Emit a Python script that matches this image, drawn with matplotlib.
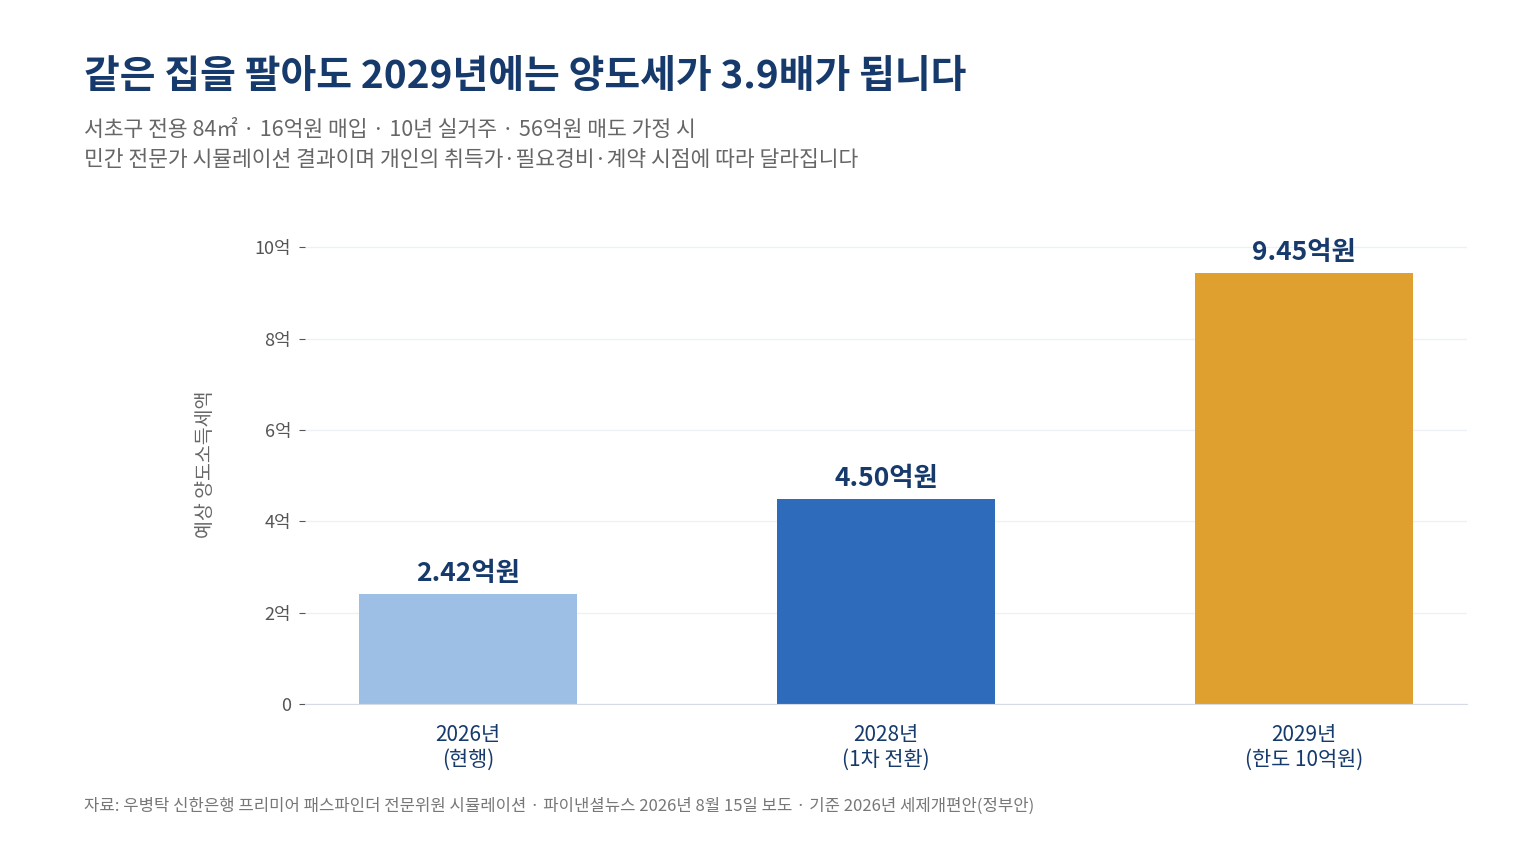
import matplotlib
matplotlib.use("Agg")
import matplotlib.pyplot as plt

plt.rcParams['font.family'] = ['Noto Sans CJK KR', 'DejaVu Sans']

categories = ["2026년\n(현행)", "2028년\n(1차 전환)", "2029년\n(한도 10억원)"]
values = [2.42, 4.50, 9.45]
bar_labels = ["2.42억원", "4.50억원", "9.45억원"]
yticks = [0, 2, 4, 6, 8, 10]
ytick_labels = ["0", "2억", "4억", "6억", "8억", "10억"]
COLORS = ["#9dbfe6", "#2e6bba", "#dfa030"]
NAVY = "#163a6b"

fig = plt.figure(figsize=(15.36, 8.64), dpi=100)
ax = fig.add_axes([0.1986, 0.185, 0.7565, 0.555])

x = range(len(values))
ax.bar(x, values, width=0.52, color=COLORS, zorder=2)
for xi, v, lab in zip(x, values, bar_labels):
    ax.text(xi, v + 0.15, lab, ha="center", va="bottom", fontsize=19,
            fontweight="bold", color=NAVY)

ax.set_xlim(-0.39, 2.39)
ax.set_ylim(0, 10.5)
ax.set_yticks(yticks)
ax.set_yticklabels(ytick_labels, fontsize=13, color="#555")
ax.set_xticks(list(x))
ax.set_xticklabels(categories, fontsize=15, color=NAVY)
ax.tick_params(axis="x", length=0, pad=14)
ax.tick_params(axis="y", length=4, color="#555", pad=6)
ax.grid(True, axis="y", color="#edf0f4", linewidth=1, zorder=0)
for s in ["top", "right", "left"]:
    ax.spines[s].set_visible(False)
ax.spines["bottom"].set_color("#d5dbe6")
ax.set_ylabel("예상 양도소득세액", fontsize=14, color="#666", labelpad=28)

fig.text(0.055, 0.912, "같은 집을 팔아도 2029년에는 양도세가 3.9배가 됩니다",
         fontsize=28, fontweight="bold", color=NAVY, va="center")
fig.text(0.055, 0.849, "서초구 전용 84㎡ · 16억원 매입 · 10년 실거주 · 56억원 매도 가정 시",
         fontsize=15.5, color="#666", va="center")
fig.text(0.055, 0.815, "민간 전문가 시뮬레이션 결과이며 개인의 취득가·필요경비·계약 시점에 따라 달라집니다",
         fontsize=15.5, color="#666", va="center")
fig.text(0.055, 0.067, "자료: 우병탁 신한은행 프리미어 패스파인더 전문위원 시뮬레이션 · 파이낸셜뉴스 2026년 8월 15일 보도 · 기준 2026년 세제개편안(정부안)",
         fontsize=12, color="#777", va="center")

fig.savefig("out.png", dpi=100)
